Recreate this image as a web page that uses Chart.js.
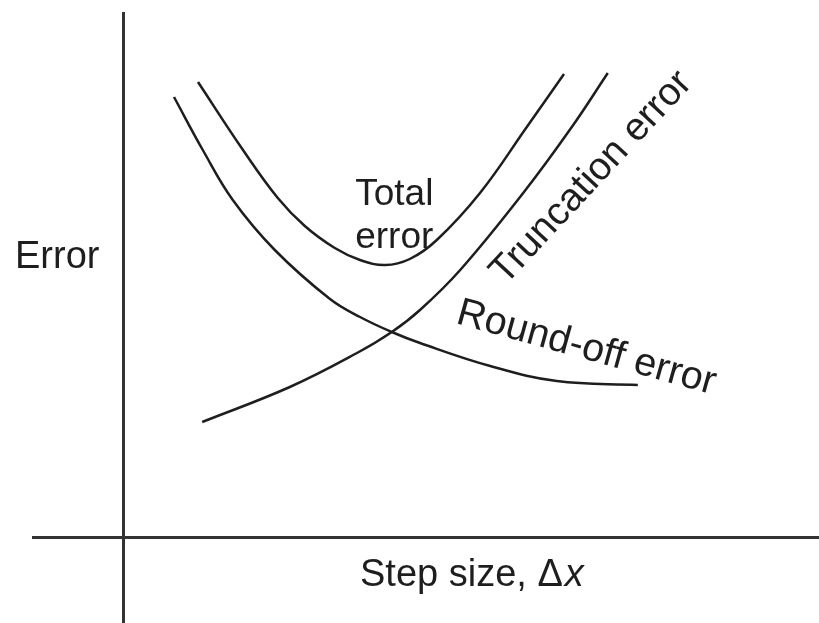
<!DOCTYPE html>
<html>
<head>
<meta charset="utf-8">
<title>Error vs step size</title>
<script src="https://cdn.jsdelivr.net/npm/chart.js"></script>
<style>
  html, body { margin: 0; padding: 0; background: #fff; }
  #wrap { width: 819px; height: 623px; position: relative; }
</style>
</head>
<body>
<div id="wrap"><canvas id="errorChart"></canvas></div>
<script>
  // Curves (x = step size, y = error, arbitrary units)
  const totalX = [1.25, 2.00, 2.58, 3.03, 3.53, 3.95, 4.37, 4.78, 5.23, 5.95, 6.73, 7.35];
  const totalY = [9.10, 7.74, 6.78, 6.22, 5.78, 5.54, 5.44, 5.56, 5.94, 6.88, 8.20, 9.26];

  const roundOffX = [0.85, 1.33, 1.83, 2.53, 3.45, 3.95, 4.48, 4.95, 6.12, 7.23, 8.58];
  const roundOffY = [8.80, 7.74, 6.74, 5.74, 4.76, 4.40, 4.10, 3.88, 3.42, 3.12, 3.04];

  const truncX = [1.32, 2.78, 3.90, 4.48, 4.95, 5.62, 6.67, 7.48, 8.08];
  const truncY = [2.30, 3.00, 3.68, 4.10, 4.54, 5.34, 6.88, 8.20, 9.28];

  // Text placed in chart units
  const curveLabels = [
    { lines: ["Total", "error"], x: 3.87, y: 6.64, angle: 0, size: 37 },
    { lines: ["Truncation error"], x: 6.37, y: 5.02, angle: -47, size: 39 },
    { lines: ["Round-off error"], x: 5.53, y: 4.28, angle: 15.5, size: 39.5 },
  ];
  const yTitle = { text: "Error", x: -1.8, y: 5.38 };
  const xTitle = { text: "Step size, ", delta: "\u0394", variable: "x", x: 3.95, y: -0.98 };

  const toPoints = (xs, ys) => xs.map((x, i) => ({ x: x, y: ys[i] }));

  const inkColor = "#1e1e1e";
  const fontFamily = '"Liberation Sans", Arial, sans-serif';

  // draws the curve names and axis titles
  const sketchText = {
    id: "sketchText",
    afterDatasetsDraw(chart) {
      const ctx = chart.ctx;
      const xs = chart.scales.x;
      const ys = chart.scales.y;
      ctx.save();
      ctx.fillStyle = inkColor;
      ctx.textBaseline = "alphabetic";
      ctx.textAlign = "left";

      curveLabels.forEach((lab) => {
        ctx.save();
        ctx.font = lab.size + "px " + fontFamily;
        ctx.translate(xs.getPixelForValue(lab.x), ys.getPixelForValue(lab.y));
        ctx.rotate((lab.angle * Math.PI) / 180);
        lab.lines.forEach((line, i) => ctx.fillText(line, 0, i * 43));
        ctx.restore();
      });

      ctx.font = "38px " + fontFamily;
      ctx.fillText(yTitle.text, xs.getPixelForValue(yTitle.x), ys.getPixelForValue(yTitle.y));

      // "Step size, Δx" with italic x
      let px = xs.getPixelForValue(xTitle.x);
      const py = ys.getPixelForValue(xTitle.y);
      ctx.fillText(xTitle.text, px, py);
      px += ctx.measureText(xTitle.text).width;
      ctx.fillText(xTitle.delta, px, py);
      px += ctx.measureText(xTitle.delta).width + 2;
      ctx.font = "italic 38px " + fontFamily;
      ctx.fillText(xTitle.variable, px, py);

      ctx.restore();
    },
  };

  const lineStyle = {
    borderColor: inkColor,
    borderWidth: 2.5,
    showLine: true,
    fill: false,
    tension: 0.4,
    pointRadius: 0,
  };

  new Chart(document.getElementById("errorChart"), {
    type: "scatter",
    data: {
      datasets: [
        Object.assign({ label: "Total error", data: toPoints(totalX, totalY) }, lineStyle),
        Object.assign({ label: "Round-off error", data: toPoints(roundOffX, roundOffY) }, lineStyle),
        Object.assign({ label: "Truncation error", data: toPoints(truncX, truncY) }, lineStyle),
      ],
    },
    options: {
      responsive: true,
      maintainAspectRatio: false,
      animation: false,
      layout: { padding: { left: 33, top: 13, right: 0, bottom: 0 } },
      plugins: {
        legend: { display: false },
        tooltip: { enabled: false },
      },
      scales: {
        x: {
          type: "linear",
          min: -1.5,
          max: 11.6,
          position: { y: 0 },
          grid: { display: false, drawTicks: false },
          ticks: { display: false },
          border: { display: true, color: "#333", width: 3 },
        },
        y: {
          type: "linear",
          min: -1.72,
          max: 10.48,
          position: { x: 0 },
          grid: { display: false, drawTicks: false },
          ticks: { display: false },
          border: { display: true, color: "#333", width: 3 },
        },
      },
    },
    plugins: [sketchText],
  });
</script>
</body>
</html>
